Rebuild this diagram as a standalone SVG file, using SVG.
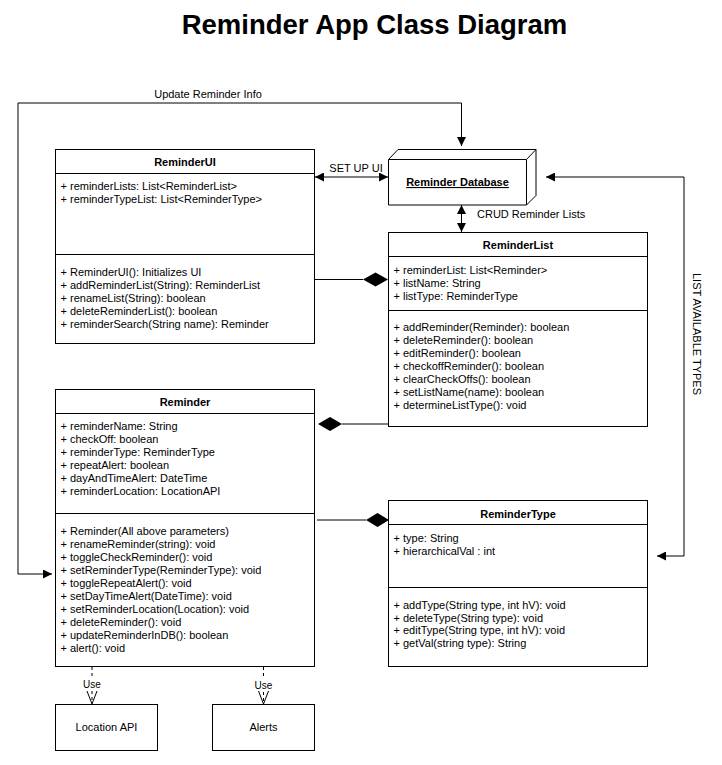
<svg xmlns="http://www.w3.org/2000/svg" width="722" height="765" viewBox="0 0 722 765">
<style>
text{font-family:"Liberation Sans",Arial,sans-serif;fill:#000}
.t{font-size:27.5px;font-weight:bold;text-anchor:middle}
.h{font-size:11px;font-weight:bold;text-anchor:middle}
.m{font-size:11px}
.c{font-size:11px;text-anchor:middle}
.u{font-size:10px;text-anchor:middle}
.box{fill:#fff;stroke:#000;stroke-width:1}
.sep{stroke:#000;stroke-width:1}
.ln{fill:none;stroke:#000;stroke-width:1}
.dash{fill:none;stroke:#000;stroke-width:1;stroke-dasharray:3 3}
</style>
<defs>
<marker id="ah" viewBox="0 0 10 10" refX="10" refY="5" markerWidth="9" markerHeight="9" markerUnits="userSpaceOnUse" orient="auto-start-reverse">
<path d="M0,0 L10,5 L0,10 Z" fill="#000"/>
</marker>
</defs>
<rect width="722" height="765" fill="#fff"/>
<text class="t" x="374.5" y="33.5">Reminder App Class Diagram</text>

<g id="connectors">
<path class="ln" d="M461.5,146 V103 H18 V574 H52" marker-start="url(#ah)" marker-end="url(#ah)"/>
<text class="c" x="208" y="98">Update Reminder Info</text>
<path class="ln" d="M315,177 H388" marker-start="url(#ah)" marker-end="url(#ah)"/>
<text class="c" x="356" y="172">SET UP UI</text>
<path class="ln" d="M461.5,205 V232" marker-start="url(#ah)" marker-end="url(#ah)"/>
<text class="m" x="477" y="218">CRUD Reminder Lists</text>
<path class="ln" d="M546,177 H684 V556 H657" marker-start="url(#ah)" marker-end="url(#ah)"/>
<text class="c" transform="translate(693,334) rotate(90)">LIST AVAILABLE TYPES</text>
<path class="ln" d="M314,279.5 H363"/>
<path d="M363,279.5 L375.5,272.5 L388,279.5 L375.5,286.5 Z" fill="#000"/>
<path class="ln" d="M342,424 H388"/>
<path d="M318,424 L330,417 L342,424 L330,431 Z" fill="#000"/>
<path class="ln" d="M317,520 H366"/>
<path d="M366,520 L377.5,513 L389,520 L377.5,527 Z" fill="#000"/>
<path class="dash" d="M92,667 V677"/>
<path class="dash" d="M92,691 V703"/>
<path class="ln" d="M87,691 L92,704 L97,691"/>
<text class="u" x="92" y="688">Use</text>
<path class="dash" d="M263.5,667 V678"/>
<path class="dash" d="M263.5,692 V703"/>
<path class="ln" d="M258.5,691 L263.5,704 L268.5,691"/>
<text class="u" x="263.5" y="689">Use</text>
</g>

<g id="db">
<path class="box" d="M388.5,159.5 L398,149.5 H536 V195.5 L526.5,205 H388.5 Z"/>
<path class="ln" d="M388.5,159.5 H526.5 L536,149.5 M526.5,159.5 V205"/>
<text x="457.5" y="186" font-size="11" font-weight="bold" text-anchor="middle" text-decoration="underline">Reminder Database</text>
</g>

<g id="reminderUI">
<rect class="box" x="55.5" y="149.5" width="259" height="194"/>
<line class="sep" x1="55.5" y1="173.5" x2="314.5" y2="173.5"/>
<line class="sep" x1="55.5" y1="254.5" x2="314.5" y2="254.5"/>
<text class="h" x="185" y="166">ReminderUI</text>
<text class="m" x="60.5" y="190">+ reminderLists: List&lt;ReminderList&gt;</text>
<text class="m" x="60.5" y="203">+ reminderTypeList: List&lt;ReminderType&gt;</text>
<text class="m" x="60.5" y="275.5">+ ReminderUI(): Initializes UI</text>
<text class="m" x="60.5" y="288.5">+ addReminderList(String): ReminderList</text>
<text class="m" x="60.5" y="301.5">+ renameList(String): boolean</text>
<text class="m" x="60.5" y="314.5">+ deleteReminderList(): boolean</text>
<text class="m" x="60.5" y="327.5">+ reminderSearch(String name): Reminder</text>
</g>

<g id="reminderList">
<rect class="box" x="388.5" y="232.5" width="259" height="194"/>
<line class="sep" x1="388.5" y1="256.5" x2="647.5" y2="256.5"/>
<line class="sep" x1="388.5" y1="310.5" x2="647.5" y2="310.5"/>
<text class="h" x="518" y="249">ReminderList</text>
<text class="m" x="393.5" y="273.5">+ reminderList: List&lt;Reminder&gt;</text>
<text class="m" x="393.5" y="286.5">+ listName: String</text>
<text class="m" x="393.5" y="299.5">+ listType: ReminderType</text>
<text class="m" x="393.5" y="330.5">+ addReminder(Reminder): boolean</text>
<text class="m" x="393.5" y="343.5">+ deleteReminder(): boolean</text>
<text class="m" x="393.5" y="356.5">+ editReminder(): boolean</text>
<text class="m" x="393.5" y="369.5">+ checkoffReminder(): boolean</text>
<text class="m" x="393.5" y="382.5">+ clearCheckOffs(): boolean</text>
<text class="m" x="393.5" y="395.5">+ setListName(name): boolean</text>
<text class="m" x="393.5" y="408.5">+ determineListType(): void</text>
</g>

<g id="reminder">
<rect class="box" x="55.5" y="389.5" width="259" height="277"/>
<line class="sep" x1="55.5" y1="413.5" x2="314.5" y2="413.5"/>
<line class="sep" x1="55.5" y1="513.5" x2="314.5" y2="513.5"/>
<text class="h" x="185" y="406">Reminder</text>
<text class="m" x="60.5" y="430">+ reminderName: String</text>
<text class="m" x="60.5" y="443">+ checkOff: boolean</text>
<text class="m" x="60.5" y="456">+ reminderType: ReminderType</text>
<text class="m" x="60.5" y="469">+ repeatAlert: boolean</text>
<text class="m" x="60.5" y="482">+ dayAndTimeAlert: DateTime</text>
<text class="m" x="60.5" y="495">+ reminderLocation: LocationAPI</text>
<text class="m" x="60.5" y="534.5">+ Reminder(All above parameters)</text>
<text class="m" x="60.5" y="547.5">+ renameReminder(string): void</text>
<text class="m" x="60.5" y="560.5">+ toggleCheckReminder(): void</text>
<text class="m" x="60.5" y="573.5">+ setReminderType(ReminderType): void</text>
<text class="m" x="60.5" y="586.5">+ toggleRepeatAlert(): void</text>
<text class="m" x="60.5" y="599.5">+ setDayTimeAlert(DateTime): void</text>
<text class="m" x="60.5" y="612.5">+ setReminderLocation(Location): void</text>
<text class="m" x="60.5" y="625.5">+ deleteReminder(): void</text>
<text class="m" x="60.5" y="638.5">+ updateReminderInDB(): boolean</text>
<text class="m" x="60.5" y="651.5">+ alert(): void</text>
</g>

<g id="reminderType">
<rect class="box" x="388.5" y="500.5" width="259" height="166"/>
<line class="sep" x1="388.5" y1="524.5" x2="647.5" y2="524.5"/>
<line class="sep" x1="388.5" y1="587.5" x2="647.5" y2="587.5"/>
<text class="h" x="518" y="517.5">ReminderType</text>
<text class="m" x="393.5" y="541.5">+ type: String</text>
<text class="m" x="393.5" y="554.5">+ hierarchicalVal : int</text>
<text class="m" x="393.5" y="608.5">+ addType(String type, int hV): void</text>
<text class="m" x="393.5" y="621.5">+ deleteType(String type): void</text>
<text class="m" x="393.5" y="634">+ editType(String type, int hV): void</text>
<text class="m" x="393.5" y="647">+ getVal(string type): String</text>
</g>

<g id="locationAPI">
<rect class="box" x="55.5" y="704.5" width="102" height="46"/>
<text class="c" x="106.5" y="731">Location API</text>
</g>

<g id="alerts">
<rect class="box" x="212.5" y="704.5" width="102" height="46"/>
<text class="c" x="263.5" y="731">Alerts</text>
</g>
</svg>
